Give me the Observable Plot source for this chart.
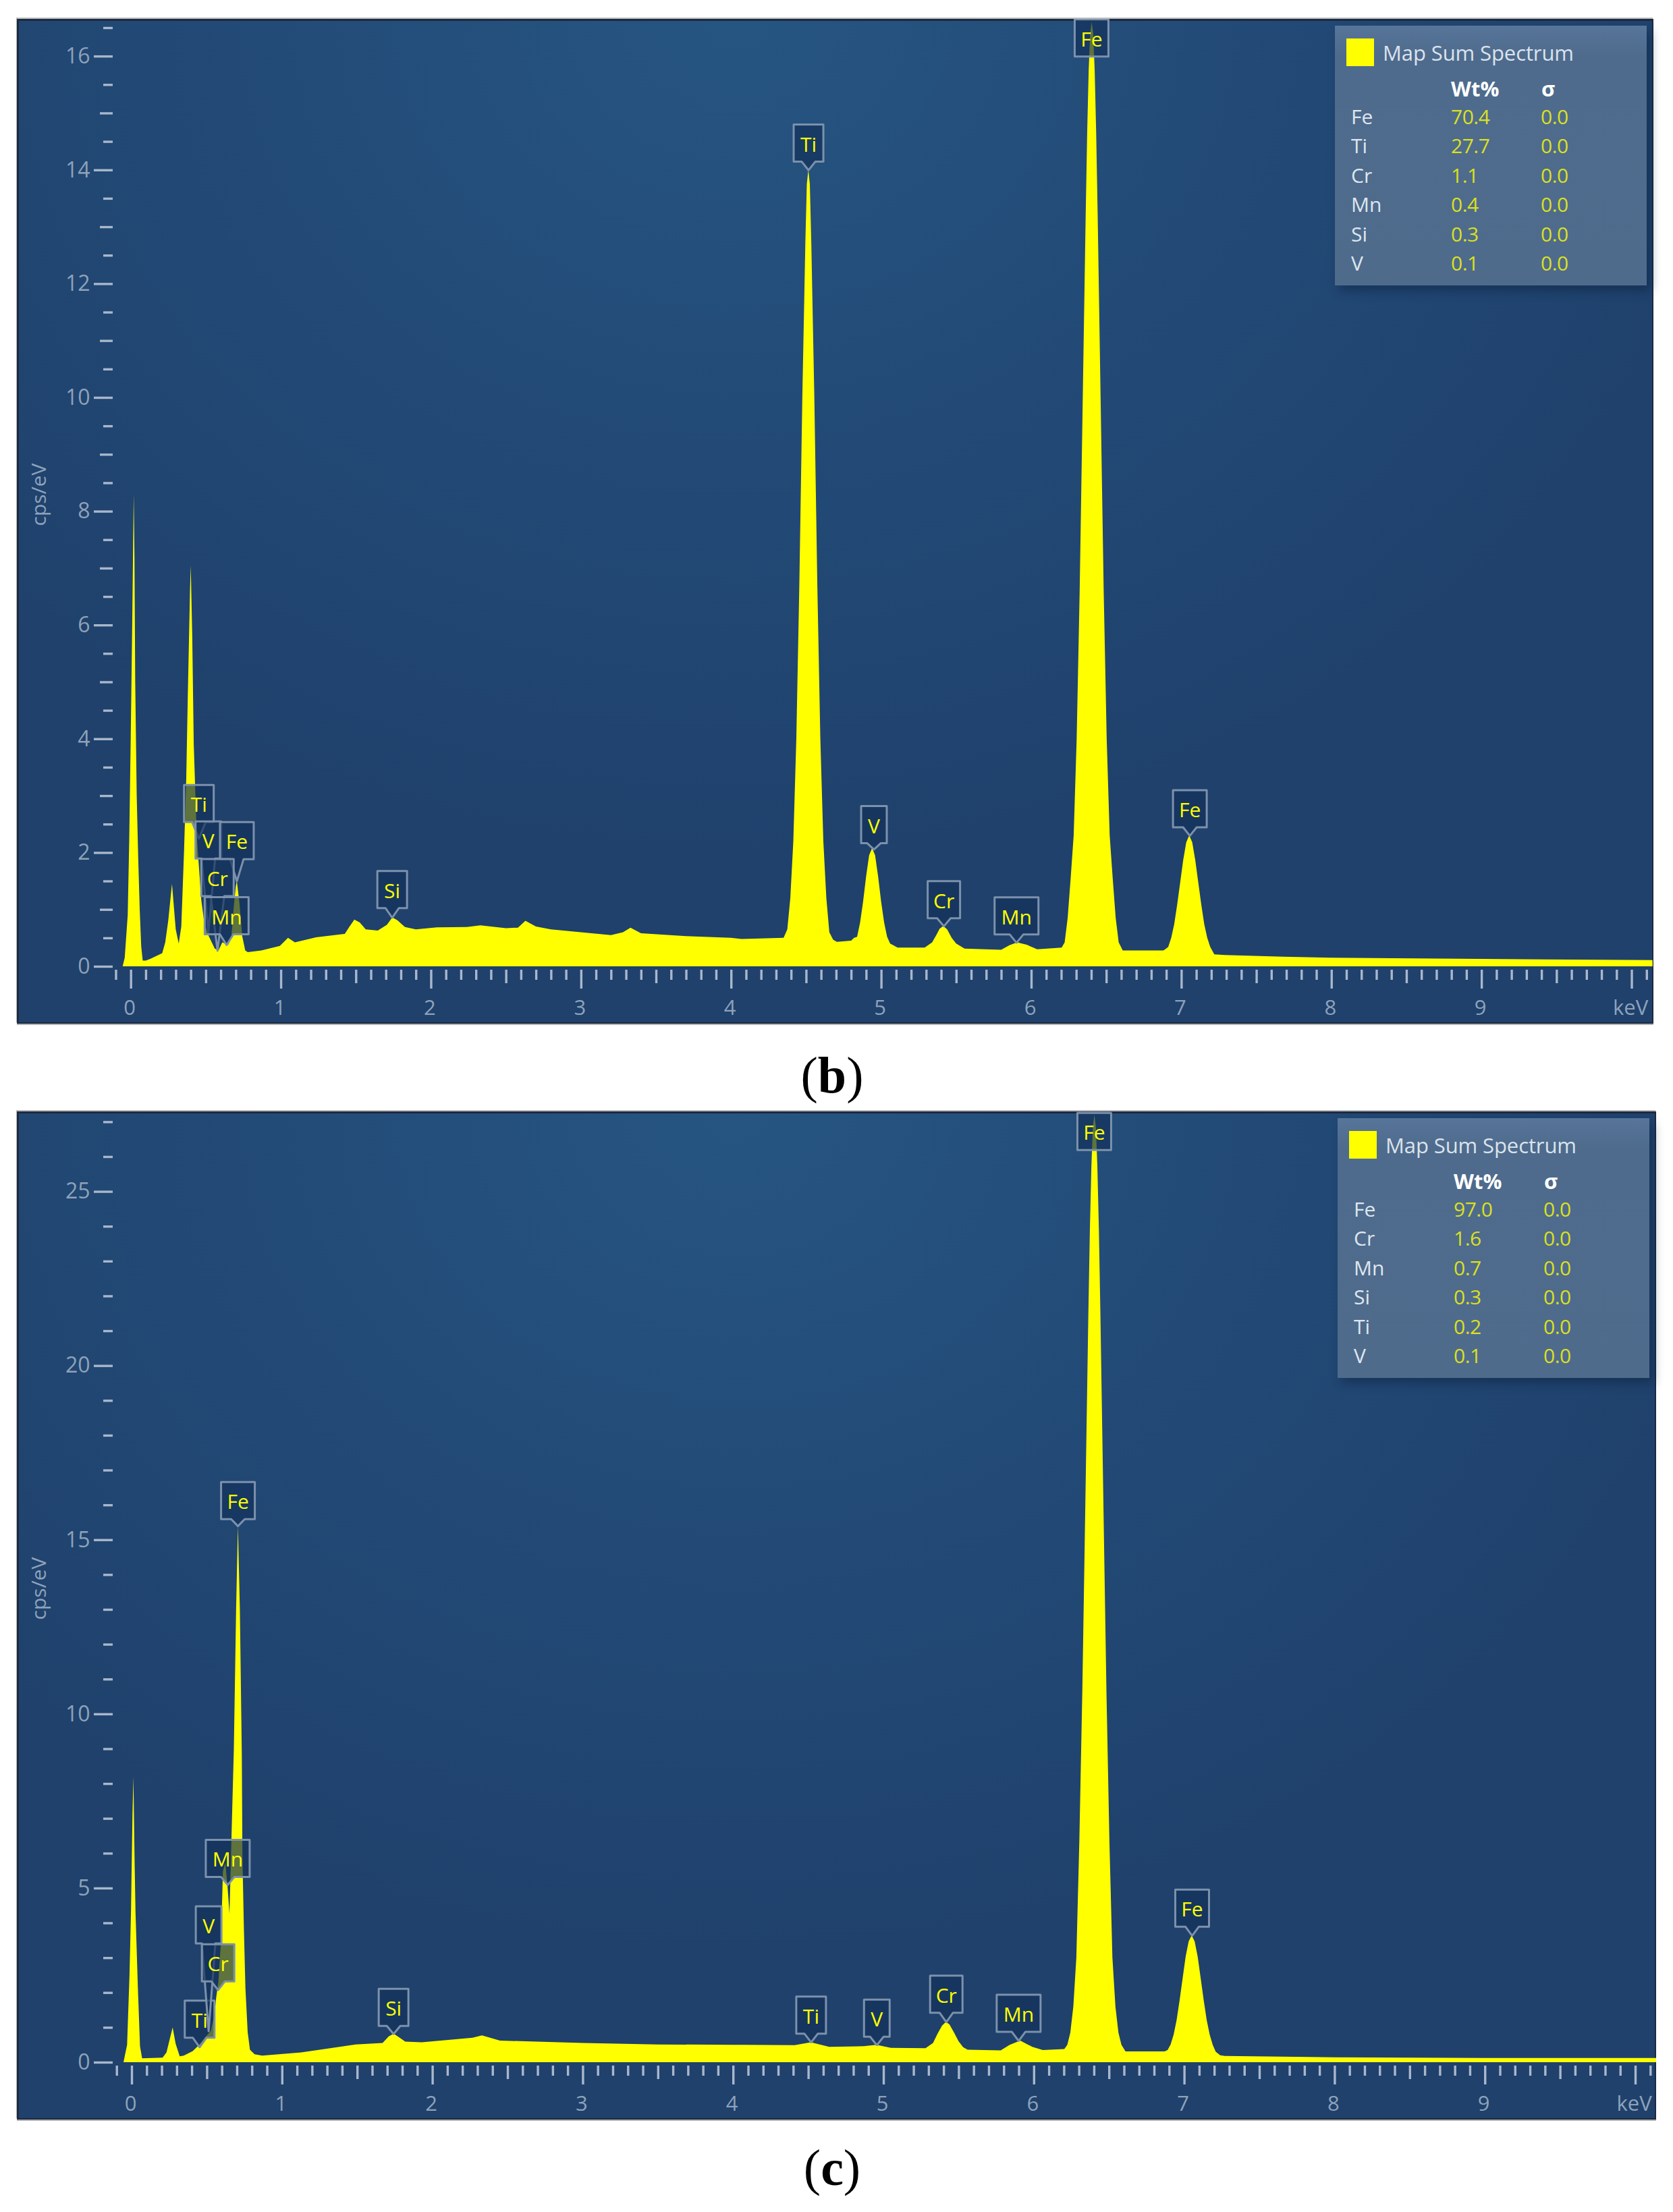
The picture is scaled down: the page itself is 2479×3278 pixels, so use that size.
<!DOCTYPE html>
<html><head><meta charset="utf-8">
<script src="https://cdn.jsdelivr.net/npm/d3@7"></script>
<script src="https://cdn.jsdelivr.net/npm/@observablehq/plot@0.6"></script>
<style>
html,body{margin:0;padding:0;background:#fff;}
body{position:relative;width:2479px;height:3278px;overflow:hidden;font-family:"Open Sans",sans-serif;}
.abs{position:absolute;white-space:nowrap;line-height:1;}
.legend{position:absolute;background:linear-gradient(180deg,#577599 0%,#4e6b8d 12%,#4f6b8c 100%);box-shadow:6px 8px 14px rgba(12,30,60,.45);}
.cap{position:absolute;font-family:"Liberation Serif",serif;font-size:76px;line-height:1;color:#000;transform:translateX(-50%);}
</style></head><body>
<script>
// ---------- panel (b) ----------
const bEnergy = [-0.054,-0.04,-0.02,-0.01,0,0.01,0.02,0.025,0.03,0.04,0.05,0.06,0.07,0.08,0.1,0.13,0.21,0.23,0.25,0.275,0.3,0.32,0.337,0.355,0.37,0.38,0.395,0.4,0.41,0.42,0.44,0.47,0.49,0.52,0.56,0.585,0.61,0.65,0.67,0.685,0.7,0.707,0.725,0.743,0.763,0.78,0.87,0.994,1.048,1.094,1.235,1.426,1.456,1.49,1.526,1.566,1.646,1.707,1.743,1.777,1.827,1.9,2.04,2.24,2.33,2.5,2.58,2.63,2.7,2.8,3,3.2,3.28,3.33,3.4,3.7,4,4.07,4.35,4.375,4.395,4.415,4.435,4.455,4.475,4.495,4.505,4.515,4.525,4.535,4.555,4.575,4.595,4.615,4.635,4.655,4.68,4.705,4.8,4.82,4.84,4.86,4.88,4.9,4.92,4.94,4.96,4.98,5,5.02,5.04,5.06,5.11,5.29,5.34,5.37,5.39,5.414,5.44,5.47,5.5,5.556,5.8,5.855,5.906,5.97,6.04,6.203,6.223,6.243,6.263,6.283,6.303,6.323,6.343,6.363,6.373,6.383,6.393,6.403,6.413,6.423,6.433,6.443,6.463,6.483,6.503,6.523,6.543,6.563,6.583,6.61,6.88,6.893,6.913,6.933,6.953,6.973,6.993,7.013,7.033,7.053,7.073,7.093,7.113,7.133,7.153,7.173,7.193,7.22,7.29,7.68,8,9,10.14];
const bCounts = [0,0.15,0.9,2.2,4,6,8.3,7.2,5,3,1.9,1,0.35,0.1,0.1,0.13,0.23,0.42,0.8,1.45,0.65,0.4,0.7,2,3.3,4.7,6.6,7.05,5.8,3.9,2.3,1.17,0.77,0.53,0.31,0.28,0.42,0.38,0.5,1,1.4,1.5,1.1,0.53,0.28,0.25,0.28,0.36,0.5,0.42,0.51,0.57,0.69,0.82,0.77,0.65,0.63,0.73,0.86,0.81,0.69,0.65,0.685,0.69,0.72,0.67,0.68,0.8,0.7,0.65,0.6,0.55,0.6,0.68,0.58,0.53,0.5,0.48,0.5,0.65,1.2,2.2,4,6.7,10,12.7,13.75,14,13.75,12.7,10,6.7,4,2.2,1.2,0.6,0.47,0.43,0.45,0.5,0.52,0.77,1.14,1.58,1.95,2.08,1.95,1.58,1.14,0.77,0.52,0.4,0.33,0.33,0.42,0.56,0.66,0.71,0.65,0.5,0.4,0.31,0.29,0.37,0.42,0.38,0.3,0.33,0.42,0.85,1.55,2.3,4,6.6,9.9,13.2,14.65,15.75,16.4,16.6,16.4,15.75,14.65,13.2,9.9,6.6,4,2.3,1.55,0.85,0.42,0.28,0.28,0.3,0.34,0.5,0.74,1.09,1.48,1.87,2.18,2.3,2.18,1.87,1.48,1.09,0.74,0.5,0.34,0.21,0.2,0.17,0.15,0.13,0.11];
const bTagNames   = ["Ti","Si","V","Fe","Cr","Mn","Ti","V","Cr","Mn","Fe","Fe"];
const bTagEnergy  = [0.452,1.74,0.515,0.705,0.576,0.637,4.514,4.95,5.416,5.9,6.4,7.055];
const bTagBottom  = [2.54,1.03,1.9,1.89,1.24,0.57,14.15,2.17,0.85,0.565,16,2.45];
const bTagTip     = [2.25,0.86,0.6,1.5,0.28,0.38,14,2.06,0.71,0.42,16,2.3];
const bLegendNames = ["Fe","Ti","Cr","Mn","Si","V"];
const bLegendWt    = ["70.4","27.7","1.1","0.4","0.3","0.1"];
const bLegendSigma = ["0.0","0.0","0.0","0.0","0.0","0.0"];
const bYMajor  = [0,2,4,6,8,10,12,14,16];
const bYMedium = [1,3,5,7,9,11,13,15];
const bYShort  = [0.5,1.5,2.5,3.5,4.5,5.5,6.5,7.5,8.5,9.5,10.5,11.5,12.5,13.5,14.5,15.5,16.5];

// ---------- panel (c) ----------
const cEnergy = [-0.054,-0.03,-0.014,-0.004,0.006,0.012,0.02,0.026,0.042,0.056,0.07,0.206,0.232,0.246,0.273,0.293,0.32,0.347,0.407,0.447,0.487,0.527,0.551,0.563,0.577,0.593,0.603,0.607,0.623,0.637,0.651,0.667,0.68,0.695,0.707,0.72,0.733,0.737,0.747,0.757,0.772,0.787,0.818,0.868,1.128,1.489,1.669,1.71,1.743,1.78,1.82,1.93,2.267,2.33,2.45,3,3.5,4,4.07,4.41,4.517,4.64,4.87,4.954,5.05,5.28,5.33,5.36,5.39,5.416,5.44,5.47,5.5,5.53,5.56,5.78,5.84,5.91,5.99,6.06,6.203,6.223,6.243,6.263,6.283,6.303,6.323,6.343,6.363,6.373,6.383,6.393,6.403,6.413,6.423,6.433,6.443,6.463,6.483,6.503,6.523,6.543,6.563,6.583,6.61,6.87,6.89,6.91,6.93,6.95,6.97,6.99,7.01,7.03,7.05,7.07,7.09,7.11,7.13,7.15,7.17,7.19,7.21,7.24,7.27,7.65,8,9,10.14];
const cCounts = [0,0.5,2.5,4.35,7.15,8.2,5.73,4.3,2.1,0.45,0.11,0.13,0.28,0.53,1,0.53,0.17,0.19,0.32,0.49,0.7,0.9,1.37,1.87,2.3,3.38,4.8,5.48,5.73,5.1,4.26,6.9,9,13,15.4,13,8.83,5.9,3.8,2.12,0.86,0.36,0.23,0.19,0.28,0.51,0.55,0.74,0.82,0.71,0.59,0.57,0.7,0.77,0.62,0.55,0.51,0.5,0.5,0.49,0.57,0.44,0.46,0.5,0.41,0.4,0.55,0.82,1.05,1.16,1.08,0.85,0.6,0.43,0.36,0.34,0.5,0.62,0.44,0.35,0.38,0.5,0.85,1.6,3,6.35,10.7,16.05,21.5,23.9,25.7,26.85,27.2,26.85,25.7,23.9,21.5,16.05,10.7,6.35,3,1.6,0.85,0.5,0.31,0.31,0.35,0.51,0.79,1.21,1.78,2.41,3.03,3.47,3.64,3.47,3.03,2.41,1.78,1.21,0.79,0.5,0.3,0.2,0.18,0.16,0.14,0.12,0.12];
const cTagNames   = ["Ti","Si","V","Cr","Mn","Fe","Ti","V","Cr","Mn","Fe","Fe"];
const cTagEnergy  = [0.45,1.74,0.51,0.573,0.637,0.705,4.517,4.954,5.416,5.897,6.4,7.051];
const cTagBottom  = [0.71,1.05,3.42,2.33,5.33,15.6,0.83,0.74,1.43,0.88,26.2,3.9];
const cTagTip     = [0.44,0.82,0.9,2.08,5.1,15.4,0.58,0.5,1.16,0.62,26.2,3.64];
const cLegendNames = ["Fe","Cr","Mn","Si","Ti","V"];
const cLegendWt    = ["97.0","1.6","0.7","0.3","0.2","0.1"];
const cLegendSigma = ["0.0","0.0","0.0","0.0","0.0","0.0"];
const cYMajor  = [0,5,10,15,20,25];
const cYMinor  = [1,2,3,4,6,7,8,9,11,12,13,14,16,17,18,19,21,22,23,24,26,27];

const legendTitle = "Map Sum Spectrum";
const legendHeaders = ["Wt%","σ"];

// ---------- shared look ----------
const FONT = '"Open Sans", sans-serif';
const YELLOW = "#ffff00";
const TICK = "#a9b7cc";
const LABEL = "#8ea2ba";
const BG = "radial-gradient(ellipse 62% 85% at 44% 0%, #265581 0%, #234b78 45%, #1f416c 100%)";
const tagW = {Ti:44, V:38, Si:44, Fe:50, Cr:48, Mn:65};
const TAG_H = 55, TAG_NECK = 10;

function tagMarks(names, xs, bottoms, tips, pxPerKev, pxPerCps){
  const outline = [], labels = [];
  names.forEach((n,i)=>{
    const cx = xs[i], b = bottoms[i], t = b + TAG_H/pxPerCps;
    const hw = tagW[n]/2/pxPerKev, nk = TAG_NECK/pxPerKev;
    const pts = [[cx-hw,t],[cx+hw,t],[cx+hw,b]];
    if (tips[i] < b) pts.push([cx+nk,b],[cx,tips[i]],[cx-nk,b]);
    pts.push([cx-hw,b],[cx-hw,t]);
    pts.forEach(p=>outline.push({id:i,x:p[0],y:p[1]}));
    labels.push({n,x:cx,y:(b+t)/2});
  });
  return [
    Plot.line(outline,{x:"x",y:"y",z:"id",fill:"#12305a",fillOpacity:0.68,stroke:"#7c91ab",strokeWidth:3,strokeLinejoin:"round",curve:"linear"}),
    Plot.text(labels,{x:"x",y:"y",text:"n",dy:3,fill:YELLOW,fontSize:30,fontFamily:FONT})
  ];
}

function panel(o){
  const W=o.w,H=o.h,ml=142,mb=85;
  const pxPerKev=(W-ml)/(o.xDomain[1]-o.xDomain[0]);
  const pxPerCps=(H-mb-o.mt)/o.yTop;
  const rng=(a,b)=>d3.range(a,b+1).map(v=>v/10);
  const xShort=rng(-1,101).filter(v=>Math.round(v*10)%5!==0);
  const xMed=rng(-1,101).filter(v=>Math.round(v*10)%10===5);
  const xMajor=d3.range(0,11);
  const pts=o.energy.map((e,i)=>({e,c:o.counts[i]}));
  const tickOpt={stroke:TICK,strokeWidth:3.4,fill:null,label:null};
  const yAxes=o.yAxes.map(([t,s])=>Plot.axisY(t,{...tickOpt,anchor:"left",tickSize:s}));
  const svg=Plot.plot({
    width:W,height:H,marginLeft:ml,marginRight:0,marginTop:o.mt,marginBottom:mb,
    style:{background:BG,position:"absolute",left:o.left+"px",top:o.top+"px",maxWidth:"none",
      boxShadow:"inset 3px 3px 0 #1d2a40, inset -2px -2px 0 #1d2a40, -1px -2px 0 #bdbdbd, 0 2px 0 #b5b5b5"},
    x:{domain:o.xDomain,axis:null},
    y:{domain:[0,o.yTop],axis:null},
    marks:[
      Plot.areaY(pts,{x:"e",y:"c",fill:YELLOW,curve:"linear"}),
      ...tagMarks(o.tagNames,o.tagEnergy,o.tagBottom,o.tagTip,pxPerKev,pxPerCps),
      ...yAxes,
      Plot.axisY(o.yMajor,{anchor:"left",tickSize:0,tickPadding:34,stroke:null,fill:LABEL,fontSize:32,fontFamily:FONT,label:null,tickFormat:d=>d}),
      Plot.axisX(xShort,{...tickOpt,anchor:"bottom",tickSize:15,dy:5}),
      Plot.axisX(xMed,{...tickOpt,anchor:"bottom",tickSize:20,dy:5}),
      Plot.axisX(xMajor,{...tickOpt,anchor:"bottom",tickSize:28,dy:5}),
      Plot.axisX(xMajor,{anchor:"bottom",tickSize:0,tickPadding:44,dy:5,dx:-2,stroke:null,fill:LABEL,fontSize:31,fontFamily:FONT,label:null,tickFormat:d=>d===10?"keV":String(d)}),
      Plot.text(["cps/eV"],{frameAnchor:"left",dx:-109,dy:o.labelDy,rotate:-90,textAnchor:"middle",lineAnchor:"middle",fill:LABEL,fontSize:30,fontFamily:FONT})
    ]
  });
  document.body.appendChild(svg);
}

function legend(left,top,names,wts,sigmas){
  const box=document.createElement("div");
  box.className="legend";
  box.style.cssText=`left:${left}px;top:${top}px;width:462px;height:385px;`;
  document.body.appendChild(box);
  const add=(txt,x,y,css)=>{
    const d=document.createElement("div");
    d.className="abs";
    d.textContent=txt;
    d.style.cssText=`left:${left+x}px;top:${top+y}px;transform:translateY(-50%);font-size:30px;${css}`;
    document.body.appendChild(d);
  };
  const sw=document.createElement("div");
  sw.className="abs";
  sw.style.cssText=`left:${left+17}px;top:${top+19}px;width:41px;height:41px;background:${YELLOW};`;
  document.body.appendChild(sw);
  add(legendTitle,71,40,"color:#dbe3ec;font-size:31px;letter-spacing:-0.1px;");
  add(legendHeaders[0],172,93,"color:#fff;font-weight:700;font-size:31px;");
  add(legendHeaders[1],306,93,"color:#fff;font-weight:700;font-size:31px;");
  names.forEach((n,i)=>{
    const y=135+i*43.4;
    add(n,24,y,"color:#dfe6ee;");
    add(wts[i],172,y,"color:#dbe01e;letter-spacing:-0.5px;");
    add(sigmas[i],305,y,"color:#dbe01e;letter-spacing:-0.5px;");
  });
}

function caption(letter,y){
  const d=document.createElement("div");
  d.className="cap";
  d.style.left="1233px"; d.style.top=y+"px";
  d.append("(");
  const b=document.createElement("b"); b.textContent=letter; d.append(b);
  d.append(")");
  document.body.appendChild(d);
}

panel({left:25,top:28,w:2425,h:1489,mt:13,xDomain:[-0.12,10.146],yTop:16.5,labelDy:-4,
  energy:bEnergy,counts:bCounts,tagNames:bTagNames,tagEnergy:bTagEnergy,tagBottom:bTagBottom,tagTip:bTagTip,
  yMajor:bYMajor,yAxes:[[bYMajor,28],[bYMedium,19],[bYShort,14]]});
legend(1978,38,bLegendNames,bLegendWt,bLegendSigma);
caption("b",1555);

panel({left:25,top:1647,w:2429,h:1494,mt:4,xDomain:[-0.1257,10.139],yTop:27.22,labelDy:0,
  energy:cEnergy,counts:cCounts,tagNames:cTagNames,tagEnergy:cTagEnergy,tagBottom:cTagBottom,tagTip:cTagTip,
  yMajor:cYMajor,yAxes:[[cYMajor,28],[cYMinor,14]]});
legend(1982,1657,cLegendNames,cLegendWt,cLegendSigma);
caption("c",3174);
</script>
</body></html>
